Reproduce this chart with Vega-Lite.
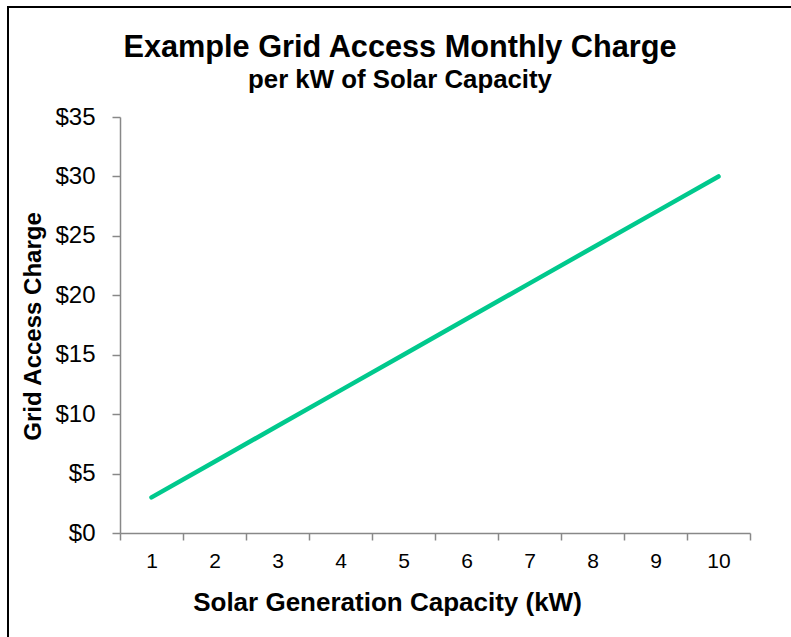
{
  "$schema": "https://vega.github.io/schema/vega-lite/v6.json",
  "width": 900,
  "height": 700,
  "autosize": {"type": "none"},
  "padding": {"left": 8, "top": 7, "right": -117, "bottom": -70},
  "background": "white",
  "config": {
    "font": "Liberation Sans",
    "view": {"stroke": "black", "strokeWidth": 2}
  },
  "title": {
    "text": "Example Grid Access Monthly Charge",
    "subtitle": "per kW of Solar Capacity",
    "anchor": "middle",
    "orient": "top",
    "offset": -87,
    "dx": -58,
    "font": "Liberation Sans",
    "fontSize": 30.7,
    "fontWeight": "bold",
    "color": "black",
    "subtitleFont": "Liberation Sans",
    "subtitleFontSize": 25.8,
    "subtitleFontWeight": "bold",
    "subtitleColor": "black",
    "subtitlePadding": 5
  },
  "data": {
    "values": [
      {"kw": 1, "charge": 3},
      {"kw": 2, "charge": 6},
      {"kw": 3, "charge": 9},
      {"kw": 4, "charge": 12},
      {"kw": 5, "charge": 15},
      {"kw": 6, "charge": 18},
      {"kw": 7, "charge": 21},
      {"kw": 8, "charge": 24},
      {"kw": 9, "charge": 27},
      {"kw": 10, "charge": 30}
    ]
  },
  "mark": {"type": "line", "color": "#00C98D", "strokeWidth": 4.5, "strokeCap": "round"},
  "encoding": {
    "x": {
      "field": "kw",
      "type": "ordinal",
      "bandPosition": 0.5,
      "scale": {"type": "band", "range": [112, 742], "paddingInner": 0, "paddingOuter": 0},
      "axis": {
        "title": "Solar Generation Capacity (kW)",
        "offset": -174,
        "tickBand": "extent",
        "labelAngle": 0,
        "labelFontSize": 21,
        "labelColor": "black",
        "labelPadding": 10,
        "tickSize": 7,
        "tickColor": "#888888",
        "tickWidth": 1.5,
        "domainColor": "#888888",
        "domainWidth": 1.5,
        "grid": false,
        "titleFontSize": 26,
        "titleFontWeight": "bold",
        "titleColor": "black",
        "titleX": 379,
        "titleY": 77,
        "titleBaseline": "alphabetic",
        "titleAlign": "center"
      }
    },
    "y": {
      "field": "charge",
      "type": "quantitative",
      "scale": {"domain": [0, 35], "range": [526, 110], "nice": false, "zero": true},
      "axis": {
        "title": "Grid Access Charge",
        "offset": -112,
        "values": [0, 5, 10, 15, 20, 25, 30, 35],
        "labelExpr": "'$' + datum.value",
        "labelFontSize": 24,
        "labelColor": "black",
        "labelPadding": 17,
        "tickSize": 8,
        "tickColor": "#888888",
        "tickWidth": 1.5,
        "domainColor": "#888888",
        "domainWidth": 1.5,
        "grid": false,
        "titleFontSize": 24,
        "titleFontWeight": "bold",
        "titleColor": "black",
        "titleAngle": -90,
        "titleX": -80,
        "titleY": 319,
        "titleBaseline": "alphabetic",
        "titleAlign": "center"
      }
    }
  }
}
